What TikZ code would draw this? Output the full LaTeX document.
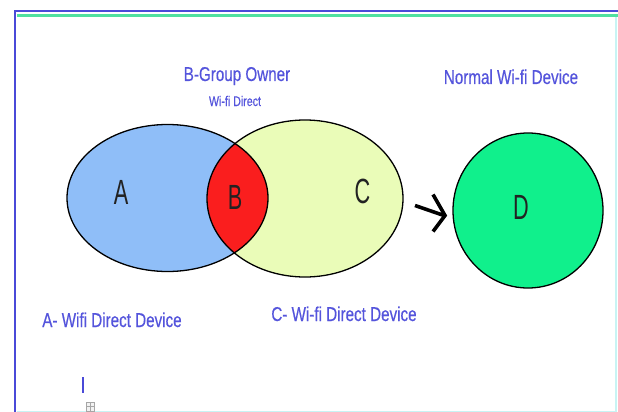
\documentclass[tikz,border=0pt]{standalone}
\usepackage{fontspec}
\setmainfont{Liberation Sans}
\newfontfamily\labelfont[FakeStretch=0.76,FakeBold=0.4]{Liberation Sans}
\newfontfamily\letterfont[FakeStretch=0.62]{Liberation Sans}
\usetikzlibrary{shapes.geometric}

\definecolor{frameblue}{RGB}{74,74,216}
\definecolor{framegreen}{RGB}{80,224,160}
\definecolor{framecyan}{RGB}{200,244,244}
\definecolor{textblue}{RGB}{84,84,220}
\definecolor{afill}{RGB}{143,190,248}
\definecolor{cfill}{RGB}{234,252,184}
\definecolor{bfill}{RGB}{250,30,30}
\definecolor{dfill}{RGB}{16,240,140}
\definecolor{lettergray}{RGB}{34,34,34}

\tikzset{
  setoutline/.style={ellipse, draw=black, line width=1.3pt, inner sep=0pt, outer sep=0pt},
  caption/.style={font=\labelfont\fontsize{20}{22}\selectfont, text=textblue, inner sep=0pt, anchor=base},
  letter/.style={font=\letterfont\fontsize{35}{37}\selectfont, text=lettergray, inner sep=0pt},
  flowline/.style={line width=3.6pt, line join=miter}
}

\begin{document}
\begin{tikzpicture}[x=1pt,y=-1pt]
\useasboundingbox (0,0) rectangle (618,412);
\fill[white] (0,0) rectangle (618,412);

% page frame
\draw[framecyan, line width=1.5pt] (616,17) -- (616,412);
\draw[framecyan, line width=1pt] (17,411) -- (616,411);
\draw[framegreen, line width=2.5pt] (17,15.5) -- (618,15.5);
\draw[frameblue, line width=2pt] (15,412) -- (15,11) -- (618,11);

% set fills
\fill[afill] (167.5,198) ellipse [x radius=100.5, y radius=73.5];
\fill[cfill] (305,198.5) ellipse [x radius=98, y radius=78.5];
\begin{scope}
  \clip (167.5,198) ellipse [x radius=100.5, y radius=73.5];
  \fill[bfill] (305,198.5) ellipse [x radius=98, y radius=78.5];
\end{scope}

% set outlines
\node[setoutline, minimum width=201pt, minimum height=147pt] (A) at (167.5,198) {};
\node[setoutline, minimum width=196pt, minimum height=157pt] (C) at (305,198.5) {};
\node[setoutline, fill=dfill, minimum width=150pt, minimum height=155pt] (D) at (528,210.5) {};

% letters
\node[letter] (la) at (121,192) {A};
\node[letter] (lb) at (235,197.5) {B};
\node[letter] (lc) at (362.5,191.5) {C};
\node[letter] (ld) at (521,207) {D};

% captions
\node[caption] (owner) at (237,81) {B-Group Owner};
\node[caption, font=\labelfont\fontsize{14}{16}\selectfont] (owner2) at (235,106) {Wi-fi Direct};
\node[caption] (normal) at (511,84) {Normal Wi-fi Device};
\node[caption] (adev) at (112,327) {A- Wifi Direct Device};
\node[caption] (cdev) at (344,321) {C- Wi-fi Direct Device};

% connection from C to D: shaft plus open chevron head
\coordinate (tail) at ([xshift=12pt,yshift=-7pt]C.east);
\coordinate (tip) at ([xshift=-9pt,yshift=-5pt]D.west);
\draw[flowline] (tail) -- (tip);
\draw[flowline] ([xshift=-11pt,yshift=-16pt]tip) -- ([xshift=1pt]tip) -- ([xshift=-11pt,yshift=21pt]tip);

% text cursor and small handle
\draw[frameblue, line width=1.5pt] (83,377) -- (83,393);
\draw[gray!70, line width=0.6pt, fill=gray!10] (86,402) rectangle (94,411);
\draw[gray!70, line width=0.5pt] (90,402) -- (90,411) (86,406.5) -- (94,406.5);
\end{tikzpicture}
\end{document}
